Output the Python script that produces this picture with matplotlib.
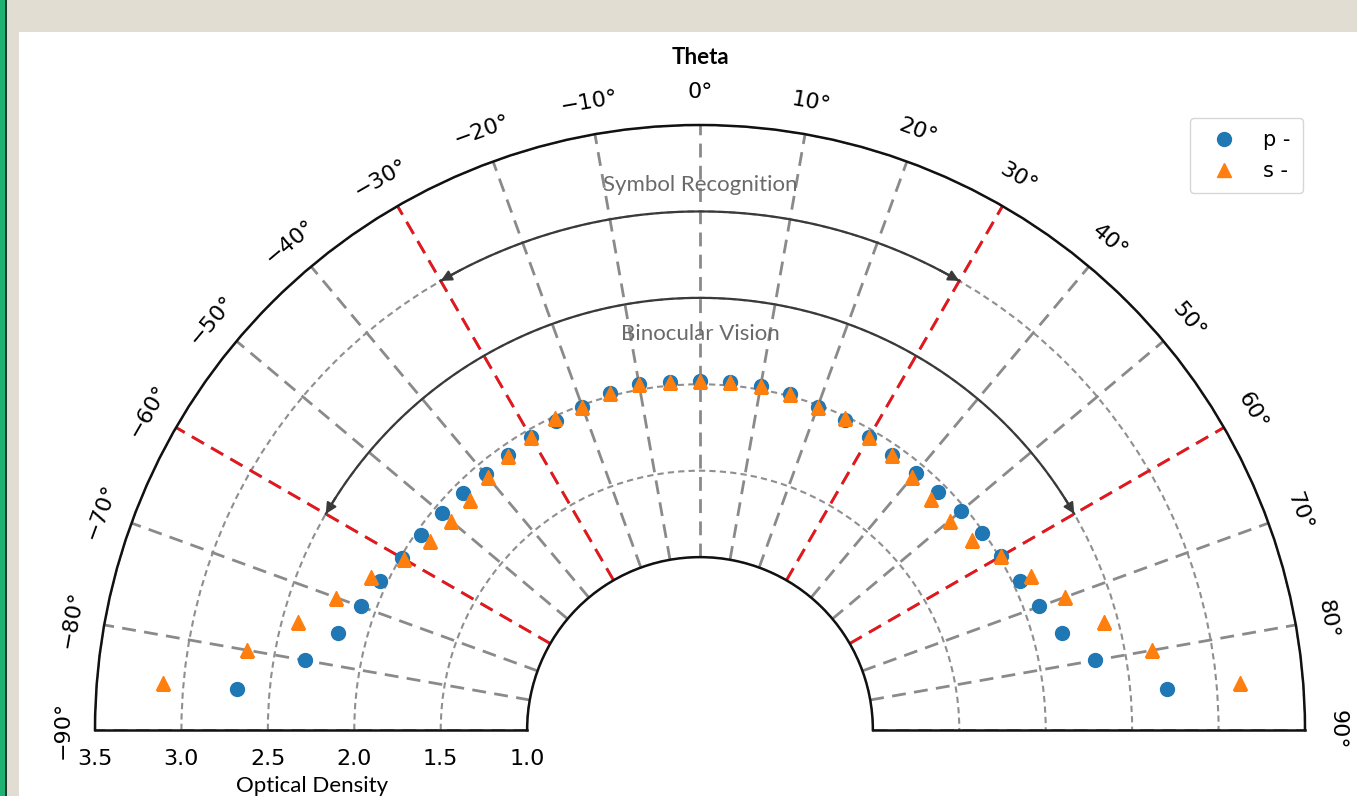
import numpy as np
import matplotlib
matplotlib.use("Agg")
import matplotlib.pyplot as plt
from matplotlib.patches import Rectangle

# ---------------- data ----------------
theta_deg = [-85, -80, -75, -70, -65, -60, -55, -50, -45, -40, -35, -30, -25, -20, -15, -10, -5,
             0, 5, 10, 15, 20, 25, 30, 35, 40, 45, 50, 55, 60, 65, 70, 75, 80, 85]
p_values = [2.69, 2.32, 2.17, 2.09, 2.04, 1.99, 1.97, 1.95, 1.94, 1.93, 1.94, 1.96, 1.97, 1.99, 2.02, 2.03, 2.02,
            2.02, 2.02, 2.02, 2.01, 1.99, 1.98, 1.96, 1.94, 1.94, 1.95, 1.97, 1.99, 2.01, 2.04, 2.09, 2.17, 2.32, 2.71]
s_values = [3.12, 2.66, 2.41, 2.24, 2.10, 1.98, 1.91, 1.88, 1.88, 1.91, 1.935, 1.96, 1.99, 1.99, 2.02, 2.03, 2.02,
            2.02, 2.02, 2.02, 2.01, 1.99, 1.99, 1.96, 1.94, 1.91, 1.89, 1.885, 1.92, 2.01, 2.11, 2.245, 2.42, 2.656, 3.136]
series_labels = ["p -", "s -"]

theta_ticks = list(range(-90, 91, 10))
theta_tick_labels = [f"{v}°".replace("-", "\u2212") for v in theta_ticks]
r_ticks = [1.0, 1.5, 2.0, 2.5, 3.0, 3.5]
r_tick_labels = ["1.0", "1.5", "2.0", "2.5", "3.0", "3.5"]
r_min, r_max = 1.0, 3.5

red_lines_deg = [-60, -30, 30, 60]
zones = [("Symbol Recognition", 3.0, 30, 3.15), ("Binocular Vision", 2.5, 60, 2.29)]

# ---------------- figure ----------------
W, H = 1357, 796
fig = plt.figure(figsize=(W / 100, H / 100), dpi=100)
fig.patch.set_facecolor("#e2ddd2")
fig.patches.append(Rectangle((19 / W, 0), (W - 19) / W, (H - 32) / H, transform=fig.transFigure,
                             facecolor="white", edgecolor="none", zorder=-5))
fig.patches.append(Rectangle((0, 0), 5 / W, 1, transform=fig.transFigure,
                             facecolor="#1db274", edgecolor="none", zorder=-5))
fig.patches.append(Rectangle((5 / W, 0), 2 / W, 1, transform=fig.transFigure,
                             facecolor="#1c3b2c", edgecolor="none", zorder=-5))

# polar centre (px from top-left) and outer radius (px); the half-wedge sits
# centred inside a square axes box of side 2R
cx, cy, R = 700, 730, 605
S = 2 * R
box_top = cy - R / 2 - S / 2
ax = fig.add_axes([(cx - R) / W, (H - (box_top + S)) / H, S / W, S / H], projection="polar")
ax.set_facecolor("none")
ax.set_theta_zero_location("N")
ax.set_theta_direction(-1)
ax.set_thetamin(-90)
ax.set_thetamax(90)
ax.set_rlim(r_min, r_max)
ax.set_rorigin(0)

ax.set_thetagrids(theta_ticks, labels=theta_tick_labels)
ax.set_rticks(r_ticks)
ax.set_yticklabels(r_tick_labels)

ax.tick_params(axis="x", labelsize=16, pad=13, direction="inout", length=7, width=1.5,
               labelrotation="auto")
ax.tick_params(axis="y", labelsize=16, pad=10, direction="inout", length=7, width=1.5)

ax.xaxis.grid(True, color="#8a8a8a", linestyle=(0, (5, 3)), linewidth=2)
ax.yaxis.grid(True, color="#8f8f8f", linestyle=(0, (3, 2)), linewidth=1.5)

for sp in ax.spines.values():
    sp.set_color("#111111")
    sp.set_linewidth(1.8)

# red boundary lines
for th in red_lines_deg:
    ax.plot([np.deg2rad(th)] * 2, [r_min, r_max], color="#e8151b",
            linestyle=(0, (5, 3)), linewidth=2, zorder=2.5)

# zone arcs with arrows
for name, rr, span, rtext in zones:
    th = np.deg2rad(np.linspace(-span, span, 300))
    ax.plot(th, np.full_like(th, rr), color="#3a3a3a", linewidth=1.6, zorder=2.6)
    for sgn in (-1, 1):
        ax.annotate("", xy=(np.deg2rad(sgn * span), rr), xytext=(np.deg2rad(sgn * (span - 2.5)), rr),
                    arrowprops=dict(arrowstyle="-|>", color="#3a3a3a", lw=1.5,
                                    mutation_scale=16, shrinkA=0, shrinkB=0), zorder=2.6)
    ax.text(0, rtext, name, ha="center", va="center", fontsize=16, color="#6a6a6a",
            family=["Lato", "DejaVu Sans"], zorder=3)

# data
th_rad = np.deg2rad(theta_deg)
ax.plot(th_rad, p_values, "o", color="#1f77b4", markersize=10, linestyle="none",
        label=series_labels[0], zorder=4)
ax.plot(th_rad, s_values, "^", color="#ff7f0e", markersize=10, linestyle="none",
        label=series_labels[1], zorder=5)

leg = fig.legend(loc="upper right", bbox_to_anchor=(1303 / W, 1 - 118 / H), fontsize=15,
                 frameon=True, borderpad=0.6, handletextpad=0.9, borderaxespad=0)
leg.get_frame().set_edgecolor("#cccccc")

fig.text(cx / W, 1 - 58 / H, "Theta", ha="center", va="center", fontsize=16,
         fontweight="bold", family=["Lato", "DejaVu Sans"])
fig.text(312 / W, 1 - 776 / H, "Optical Density", ha="center", va="top", fontsize=16,
         family=["Lato", "DejaVu Sans"])

fig.savefig("out.png", dpi=100, facecolor=fig.get_facecolor())
